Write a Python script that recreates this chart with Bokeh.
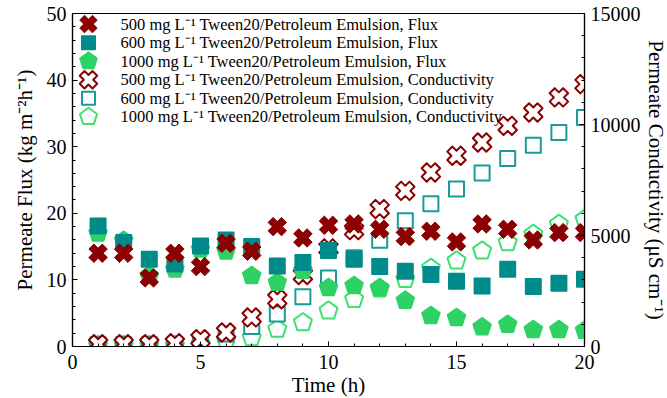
import math
from bokeh.plotting import figure
from bokeh.models import ColumnDataSource, Range1d, LinearAxis, FixedTicker
from bokeh.core.properties import value
from bokeh.embed import file_html
from bokeh.resources import INLINE

# ---------------- data ----------------
time_h = [1, 2, 3, 4, 5, 6, 7, 8, 9, 10, 11, 12, 13, 14, 15, 16, 17, 18, 19, 20]
flux_500 = [14.0, 14.0, 10.3, 14.0, 12.0, 15.5, 14.3, 18.0, 16.3, 18.2,
            18.4, 17.6, 16.5, 17.3, 15.7, 18.4, 17.6, 16.0, 17.1, 17.1]
flux_600 = [18.1, 15.6, 13.1, 12.4, 15.1, 16.0, 15.0, 12.1, 12.6, 14.4,
            13.1, 12.0, 11.3, 10.8, 9.8, 9.1, 11.6, 9.0, 9.5, 10.1]
flux_1000 = [17.0, 15.9, 10.6, 11.6, 14.6, 14.3, 10.6, 9.6, 11.4, 8.8,
             9.1, 8.8, 6.9, 4.6, 4.3, 2.9, 3.3, 2.5, 2.5, 2.4]
cond_500 = [100, 100, 100, 150, 330, 630, 1310, 2130, 3220, 4420,
            5240, 6190, 7010, 7840, 8590, 9190, 9940, 10540, 11220, 11820]
cond_600 = [80, 80, 80, 80, 150, 560, 900, 1460, 2240, 3080,
            4000, 4790, 5660, 6430, 7090, 7810, 8470, 9070, 9640, 10320]
cond_1000 = [50, 50, 50, 50, 100, 260, 400, 780, 1080, 1610,
             2130, 2600, 3030, 3530, 3860, 4310, 4680, 5060, 5510, 5730]

labels = [
    "500 mg L\u207B\u00B9 Tween20/Petroleum Emulsion, Flux",
    "600 mg L\u207B\u00B9 Tween20/Petroleum Emulsion, Flux",
    "1000 mg L\u207B\u00B9 Tween20/Petroleum Emulsion, Flux",
    "500 mg L\u207B\u00B9 Tween20/Petroleum Emulsion, Conductivity",
    "600 mg L\u207B\u00B9 Tween20/Petroleum Emulsion, Conductivity",
    "1000 mg L\u207B\u00B9 Tween20/Petroleum Emulsion, Conductivity",
]
x_major = [0, 5, 10, 15, 20]
x_minor = list(range(0, 21))
y_major = [0, 10, 20, 30, 40, 50]
y_minor = list(range(0, 51, 2))
c_major = [0, 5000, 10000, 15000]
c_minor = list(range(0, 15001, 1000))

RED = "#8b0000"
TEAL = "#008b8b"
TEAL_L = "#1a9a9a"
GREEN = "#2ed264"
GREEN_L = "#3ee070"
FONT = "Liberation Serif"

FRAME_W, FRAME_H = 512, 333

src = ColumnDataSource(dict(t=time_h, f5=flux_500, f6=flux_600, f10=flux_1000,
                            c5=cond_500, c6=cond_600, c10=cond_1000))

p = figure(frame_width=FRAME_W, frame_height=FRAME_H, output_backend="svg",
           toolbar_location=None,
           x_range=Range1d(0, 20), y_range=Range1d(0, 50),
           min_border_left=72, min_border_right=10, min_border_top=13,
           min_border_bottom=10)
p.extra_y_ranges = {"cond": Range1d(0, 15000),
                    "py": Range1d(FRAME_H, 0)}      # pixel space (legend)
p.extra_x_ranges = {"px": Range1d(0, FRAME_W)}
p.grid.visible = False
p.outline_line_color = "black"
p.outline_line_width = 1.2
p.background_fill_color = "white"
p.border_fill_color = "white"

def style_axis(ax):
    ax.axis_line_color = "black"
    ax.axis_line_width = 1.2
    ax.major_tick_in = 5
    ax.major_tick_out = 0
    ax.minor_tick_in = 3
    ax.minor_tick_out = 0
    ax.major_tick_line_color = "black"
    ax.minor_tick_line_color = "black"
    ax.major_label_text_font = FONT
    ax.major_label_text_font_size = "20px"
    ax.major_label_text_color = "black"
    ax.axis_label_text_font = FONT
    ax.axis_label_text_font_size = "21px"
    ax.axis_label_text_font_style = "normal"
    ax.axis_label_text_color = "black"

xa = p.xaxis[0]
xa.ticker = FixedTicker(ticks=x_major, minor_ticks=x_minor)
xa.axis_label = "Time (h)"
style_axis(xa)
xa.major_label_standoff = 8
xa.axis_label_standoff = 1

ya = p.yaxis[0]
ya.ticker = FixedTicker(ticks=y_major, minor_ticks=y_minor)
ya.axis_label = "Permeate Flux (kg m\u207B\u00B2h\u207B\u00B9)"
style_axis(ya)
ya.major_label_standoff = 6
ya.axis_label_standoff = 7

ra = LinearAxis(y_range_name="cond",
                ticker=FixedTicker(ticks=c_major, minor_ticks=c_minor),
                axis_label="Permeate Conductivity (\u03BCS cm\u207B\u00B9)")
style_axis(ra)
ra.major_label_standoff = 6
ra.axis_label_standoff = 0
p.add_layout(ra, "right")

PENT_ANGLE = 0.0

def draw(kind, x, y, source, yr, fill, line, lw, size):
    kw = dict(x=x, y=y, source=source, fill_color=fill, line_color=line,
              line_width=lw)
    if yr:
        kw["y_range_name"] = yr
    if x == "lx":
        kw["x_range_name"] = "px"
    if kind == "pent":
        return p.ngon(radius=size, radius_units="screen", n=5,
                      angle=PENT_ANGLE, **kw)
    if kind == "square":
        return p.scatter(marker="square", size=size, line_join="round", **kw)
    return p.scatter(marker="plus", size=size, angle=math.pi / 4,
                     line_join="round", **kw)

# conductivity (open markers) drawn first, then flux (filled)
draw("pent", "t", "c10", src, "cond", "white", GREEN_L, 2, 9.5)
draw("square", "t", "c6", src, "cond", "white", TEAL_L, 2, 15)
draw("x", "t", "c5", src, "cond", "white", RED, 2, 19)
draw("pent", "t", "f10", src, None, GREEN, GREEN, 1.5, 9.5)
draw("square", "t", "f6", src, None, TEAL, TEAL, 2, 15)
draw("x", "t", "f5", src, None, RED, RED, 1, 19)

# ---------------- legend (pixel space inside the frame) ----------------
LEG_X, LEG_Y0, LEG_DY, LEG_TX = 16, 10.6, 18.54, 48
leg_styles = [("x", RED, RED, 1, 18), ("square", TEAL, TEAL, 2, 13),
              ("pent", GREEN, GREEN, 1.5, 9),
              ("x", "white", RED, 2, 18), ("square", "white", TEAL_L, 2, 13),
              ("pent", "white", GREEN_L, 2, 9)]
for i, (kind, fill, line, lw, size) in enumerate(leg_styles):
    ly = LEG_Y0 + i * LEG_DY
    lsrc = ColumnDataSource(dict(lx=[LEG_X], ly=[ly]))
    draw(kind, "lx", "ly", lsrc, "py", fill, line, lw, size)
    p.text(x=[LEG_TX], y=[ly], text=[labels[i]], x_range_name="px",
           y_range_name="py", text_font=value(FONT),
           text_font_size=value("16.5px"), text_color="black",
           text_baseline="middle", text_align="left")

open("out.html", "w").write(file_html(p, INLINE))
